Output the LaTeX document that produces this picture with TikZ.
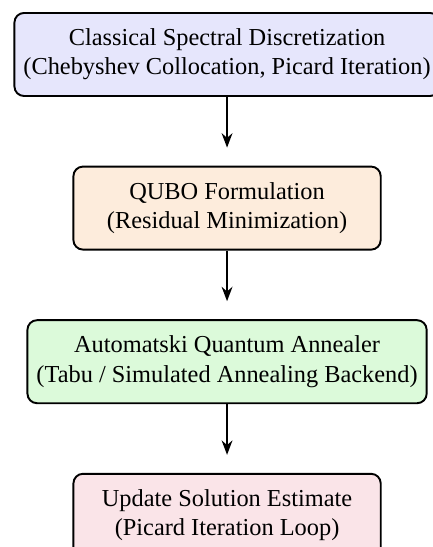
\documentclass[tikz,border=0pt]{standalone}
\usepackage{fontspec}
\setmainfont{Liberation Serif}
\usetikzlibrary{positioning,arrows.meta}
\definecolor{specfill}{RGB}{230,230,252}
\definecolor{qubofill}{RGB}{253,236,220}
\definecolor{annfill}{RGB}{220,250,218}
\definecolor{updfill}{RGB}{250,228,232}
\begin{document}
\begin{tikzpicture}[
  font=\fontsize{10.15}{12.2}\selectfont,
  stage/.style={draw, thick, rounded corners=4pt, align=center,
                minimum width=4.5cm, minimum height=34.6pt, inner sep=3.75pt},
  flow/.style={thick, -{Stealth[length=6pt,width=4.5pt]}, shorten >=7.5pt},
  node distance=28.6pt
]
  % pipeline stages, top to bottom
  \node[stage, fill=specfill] (spec) {Classical Spectral Discretization\\(Chebyshev Collocation, Picard Iteration)};
  \node[stage, fill=qubofill, below=of spec] (qubo) {QUBO Formulation\\(Residual Minimization)};
  \node[stage, fill=annfill, below=of qubo] (anneal) {Automatski Quantum Annealer\\(Tabu / Simulated Annealing Backend)};
  \node[stage, fill=updfill, below=of anneal] (update) {Update Solution Estimate\\(Picard Iteration Loop)};

  % connectors
  \draw[flow] (spec) -- (qubo);
  \draw[flow] (qubo) -- (anneal);
  \draw[flow] (anneal) -- (update);

  % page frame: the top box runs off the right side, the bottom box off the foot
  \pgfresetboundingbox
  \useasboundingbox ([xshift=-94.6pt,yshift=5pt]spec.north) rectangle ([xshift=85.8pt,yshift=-222.9pt]spec.north);
\end{tikzpicture}
\end{document}
